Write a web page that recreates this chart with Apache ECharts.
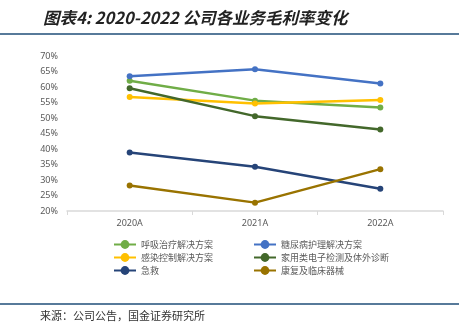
<!DOCTYPE html>
<html><head><meta charset="utf-8">
<script src="https://cdn.jsdelivr.net/npm/echarts@6/dist/echarts.min.js"></script>
<style>html,body{margin:0;padding:0;background:#fff;}#c{width:476px;height:331px;}</style>
</head><body><div id="c"></div>
<script>
const categories = ['2020A', '2021A', '2022A'];
const seriesNames = ['呼吸治疗解决方案', '糖尿病护理解决方案', '感染控制解决方案', '家用类电子检测及体外诊断', '急救', '康复及临床器械'];
const huxi = [62.0, 55.6, 53.4];
const tangniao = [63.5, 65.7, 61.1];
const ganran = [56.8, 54.7, 55.8];
const jiayong = [59.6, 50.6, 46.3];
const jijiu = [38.9, 34.3, 27.2];
const kangfu = [28.2, 22.7, 33.5];
const yTicks = [20, 25, 30, 35, 40, 45, 50, 55, 60, 65, 70];
const colors = ['#70AD47', '#4472C4', '#FFC000', '#43682B', '#264478', '#997300'];
const values = [huxi, tangniao, ganran, jiayong, jijiu, kangfu];

const chart = echarts.init(document.getElementById('c'));
const legendText = {color: '#595959', fontSize: 9, fontFamily: 'Noto Sans CJK SC'};
chart.setOption({
  animation: false,
  title: {
    text: '图表4: 2020-2022 公司各业务毛利率变化',
    left: 38, top: 4,
    textStyle: {fontSize: 16.5, fontWeight: 'bold', fontStyle: 'italic', color: '#222', fontFamily: 'Noto Sans CJK SC'}
  },
  graphic: [
    {type: 'line', shape: {x1: 0, y1: 34, x2: 459, y2: 34}, style: {stroke: '#1F4E79', lineWidth: 1.5}},
    {type: 'line', shape: {x1: 0, y1: 304, x2: 459, y2: 304}, style: {stroke: '#1F4E79', lineWidth: 1.5}},
    {type: 'text', left: 40, top: 310, style: {text: '来源：公司公告，国金证券研究所', fill: '#333', fontSize: 11, fontFamily: 'Noto Sans CJK SC'}}
  ],
  legend: [
    {left: 108, top: 235, orient: 'vertical', itemGap: 4, itemWidth: 22, itemHeight: 11,
     data: [seriesNames[0], seriesNames[2], seriesNames[4]], textStyle: legendText},
    {left: 248, top: 235, orient: 'vertical', itemGap: 4, itemWidth: 22, itemHeight: 11,
     data: [seriesNames[1], seriesNames[3], seriesNames[5]], textStyle: legendText}
  ],
  grid: {left: 67, right: 33, top: 56, bottom: 120},
  xAxis: {
    type: 'category', data: categories, boundaryGap: true,
    axisLine: {lineStyle: {color: '#D9D9D9', width: 1.5}},
    axisTick: {show: true, length: 4, lineStyle: {color: '#D9D9D9'}},
    axisLabel: {color: '#595959', fontSize: 9, margin: 8, fontFamily: 'Noto Sans'}
  },
  yAxis: {
    type: 'value', min: yTicks[0], max: yTicks[yTicks.length - 1], interval: 5,
    axisLine: {show: false}, axisTick: {show: false}, splitLine: {show: false},
    axisLabel: {color: '#595959', fontSize: 9, margin: 9, formatter: v => v + '%', fontFamily: 'Noto Sans'}
  },
  series: seriesNames.map((n, i) => ({
    name: n, type: 'line', data: values[i],
    symbol: 'circle', symbolSize: 6,
    lineStyle: {width: 2.5, color: colors[i]},
    itemStyle: {color: colors[i]}
  }))
});
</script></body></html>
